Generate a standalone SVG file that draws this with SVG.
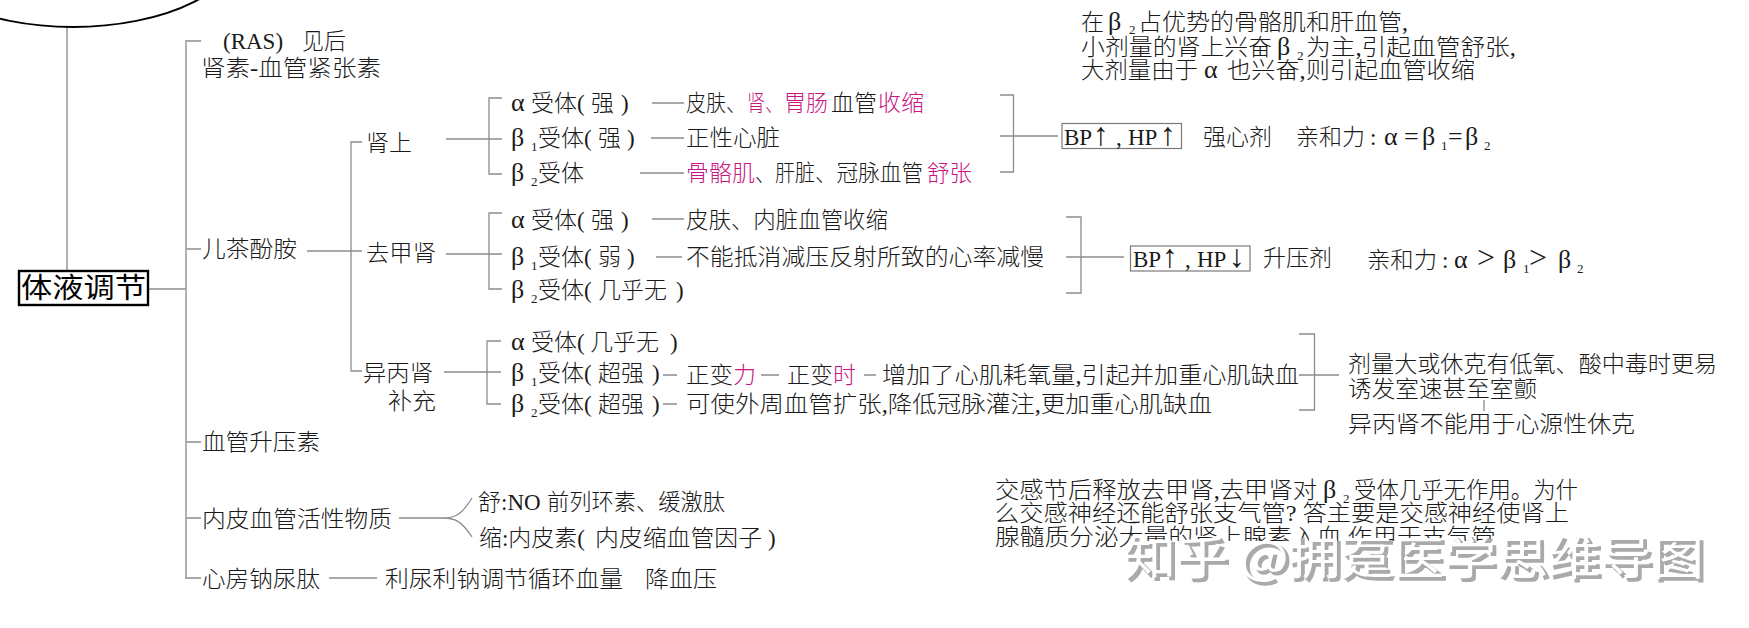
<svg xmlns="http://www.w3.org/2000/svg" width="1749" height="628" viewBox="0 0 1749 628">
<style>
text{font-family:"Liberation Serif","Noto Sans CJK SC",serif;font-size:23px;font-weight:300;fill:#1a1a1a}
.m,.m tspan{fill:#c8157f}
.g{font-size:26px}
.ar{font-size:32px;font-weight:400}
.gt{font-size:32px}
.s{font-size:13px}
.root{font-size:28px;font-weight:400;fill:#000}
.wm{font-family:"Noto Sans CJK SC","Liberation Sans",sans-serif;font-size:46px;font-weight:400}
.c{fill:none;stroke:#8c8c8c;stroke-width:1.3}
.c2{fill:none;stroke:#a8a8a8;stroke-width:1.8}
.b{fill:none;stroke:#7a7a7a;stroke-width:1.2}
</style>
<defs><clipPath id="cut"><path d="M990,515H1500V541H1135V556H990Z"/></clipPath></defs>
<rect width="1749" height="628" fill="#fff"/>
<g id="connectors">
<path class="c2" d="M67,27V271"/>
<path class="c2" d="M148,289H186M201,41H186V578H201M186,249H201M186,442H201M186,518H201"/>
<path class="c" d="M307,251H362M362,142H351V371H362"/>
<path class="c" d="M446,139H502M502,98H489V174H502"/>
<path class="c" d="M446,254H502M502,213H489V289H502"/>
<path class="c" d="M444,372H501M501,341H487V404H501"/>
<path class="c" d="M652,103H684M651,138H684M640,173H684M652,219H684M656,257H682M663,375H677M761,375H779M864,375H876M663,404H677"/>
<path class="c" d="M1000,95H1013.5V172H1000M1000,136H1058"/>
<path class="c" d="M1066,217H1081V293H1066M1066,257H1124"/>
<path class="c" d="M1299,334H1314.5V410H1299M1299,375H1339M1484,400V411"/>
<path class="c" d="M399,518H443C456,518 462,514 472,498M443,518C456,518 462,522 472,537"/>
<path class="c" d="M329,578H377"/>
</g>
<g id="top-ellipse"><ellipse cx="73" cy="-60" rx="172" ry="87" fill="none" stroke="#000" stroke-width="2"/></g>
<g id="root"><rect x="19" y="271" width="129" height="34" fill="#fff" stroke="#000" stroke-width="2.4"/><text class="root" x="21" y="298" textLength="125" lengthAdjust="spacingAndGlyphs">体液调节</text></g>
<g id="ras"><text x="223" y="49">(RAS)</text><text x="302" y="49" textLength="44" lengthAdjust="spacingAndGlyphs">见后</text><text x="201" y="76" textLength="180" lengthAdjust="spacingAndGlyphs">肾素-血管紧张素</text></g>
<g id="catecholamine"><text x="202" y="257" textLength="95" lengthAdjust="spacingAndGlyphs">儿茶酚胺</text></g>
<g id="adrenaline"><text x="366" y="151" textLength="46" lengthAdjust="spacingAndGlyphs">肾上</text></g>
<g id="noradrenaline"><text x="366" y="261" textLength="70" lengthAdjust="spacingAndGlyphs">去甲肾</text></g>
<g id="isoprenaline"><text x="363" y="381" textLength="70" lengthAdjust="spacingAndGlyphs">异丙肾</text><text x="388" y="409" textLength="48" lengthAdjust="spacingAndGlyphs">补充</text></g>
<g id="a-alpha"><text y="111"><tspan class="g" x="511">α</tspan><tspan x="531">受体(</tspan><tspan x="591">强</tspan><tspan x="621">)</tspan></text>
<text x="686" y="111" textLength="60" lengthAdjust="spacingAndGlyphs">皮肤、</text><text class="m" x="747" y="111" textLength="36" lengthAdjust="spacingAndGlyphs">肾、</text><text class="m" x="784" y="111" textLength="44" lengthAdjust="spacingAndGlyphs">胃肠</text><text x="831" y="111" textLength="46" lengthAdjust="spacingAndGlyphs">血管</text><text class="m" x="878" y="111" textLength="46" lengthAdjust="spacingAndGlyphs">收缩</text></g>
<g id="a-beta1"><text y="146"><tspan class="g" x="511">β</tspan><tspan x="538">受体(</tspan><tspan x="598">强</tspan><tspan x="627">)</tspan></text><text class="s" x="531" y="151">1</text>
<text x="686" y="146" textLength="94" lengthAdjust="spacingAndGlyphs">正性心脏</text></g>
<g id="a-beta2"><text y="181"><tspan class="g" x="511">β</tspan><tspan x="538">受体</tspan></text><text class="s" x="531" y="186">2</text>
<text class="m" x="686" y="181" textLength="69" lengthAdjust="spacingAndGlyphs">骨骼肌</text><text x="755" y="181" textLength="60" lengthAdjust="spacingAndGlyphs">、肝脏</text><text x="815" y="181" textLength="108" lengthAdjust="spacingAndGlyphs">、冠脉血管</text><text class="m" x="927" y="181" textLength="45" lengthAdjust="spacingAndGlyphs">舒张</text></g>
<g id="a-note"><text x="1081" y="30">在</text><text class="g" x="1108" y="30">β</text><text class="s" x="1129" y="34">2</text><text x="1138" y="30" textLength="270" lengthAdjust="spacingAndGlyphs">占优势的骨骼肌和肝血管,</text>
<text x="1081" y="55" textLength="191" lengthAdjust="spacingAndGlyphs">小剂量的肾上兴奋</text><text class="g" x="1277" y="55">β</text><text class="s" x="1297" y="60">2</text><text x="1306" y="55" textLength="210" lengthAdjust="spacingAndGlyphs">为主,引起血管舒张,</text>
<text x="1081" y="78" textLength="117" lengthAdjust="spacingAndGlyphs">大剂量由于</text><text class="g" x="1204" y="78">α</text><text x="1227" y="78" textLength="248" lengthAdjust="spacingAndGlyphs">也兴奋,则引起血管收缩</text></g>
<g id="a-effect"><rect class="b" x="1062" y="123.5" width="119.5" height="25"/><text y="145"><tspan x="1064">BP</tspan><tspan class="ar" x="1093">↑</tspan><tspan x="1116">,</tspan><tspan x="1128">HP</tspan><tspan class="ar" x="1160">↑</tspan></text>
<text x="1203" y="145" textLength="69" lengthAdjust="spacingAndGlyphs">强心剂</text><text x="1296" y="145" textLength="69" lengthAdjust="spacingAndGlyphs">亲和力</text><text y="145"><tspan x="1370">:</tspan><tspan class="g" x="1384">α</tspan><tspan class="g" x="1404">=</tspan><tspan class="g" x="1422">β</tspan><tspan class="g" x="1448">=</tspan><tspan class="g" x="1465">β</tspan></text><text class="s" x="1441" y="150">1</text><text class="s" x="1484" y="150">2</text></g>
<g id="n-alpha"><text y="228"><tspan class="g" x="511">α</tspan><tspan x="531">受体(</tspan><tspan x="591">强</tspan><tspan x="621">)</tspan></text><text x="686" y="228" textLength="202" lengthAdjust="spacingAndGlyphs">皮肤、内脏血管收缩</text></g>
<g id="n-beta1"><text y="265"><tspan class="g" x="511">β</tspan><tspan x="538">受体(</tspan><tspan x="598">弱</tspan><tspan x="627">)</tspan></text><text class="s" x="531" y="270">1</text><text x="686" y="265" textLength="358" lengthAdjust="spacingAndGlyphs">不能抵消减压反射所致的心率减慢</text></g>
<g id="n-beta2"><text y="298"><tspan class="g" x="511">β</tspan><tspan x="538">受体(</tspan><tspan x="598">几乎无</tspan><tspan x="676">)</tspan></text><text class="s" x="531" y="303">2</text></g>
<g id="n-effect"><rect class="b" x="1130.5" y="246" width="119.5" height="25"/><text y="267"><tspan x="1133">BP</tspan><tspan class="ar" x="1162">↑</tspan><tspan x="1185">,</tspan><tspan x="1197">HP</tspan><tspan class="ar" x="1229">↓</tspan></text>
<text x="1263" y="266" textLength="69" lengthAdjust="spacingAndGlyphs">升压剂</text><text x="1367" y="268" textLength="70" lengthAdjust="spacingAndGlyphs">亲和力</text><text y="268"><tspan x="1442">:</tspan><tspan class="g" x="1454">α</tspan><tspan class="gt" x="1477">&gt;</tspan><tspan class="g" x="1503">β</tspan><tspan class="gt" x="1529">&gt;</tspan><tspan class="g" x="1558">β</tspan></text><text class="s" x="1523" y="273">1</text><text class="s" x="1577" y="273">2</text></g>
<g id="i-alpha"><text y="350"><tspan class="g" x="511">α</tspan><tspan x="531">受体(</tspan><tspan x="590">几乎无</tspan><tspan x="670">)</tspan></text></g>
<g id="i-beta1"><text y="381"><tspan class="g" x="511">β</tspan><tspan x="538">受体(</tspan><tspan x="598">超强</tspan><tspan x="652">)</tspan></text><text class="s" x="531" y="386">1</text>
<text x="686" y="383" textLength="47" lengthAdjust="spacingAndGlyphs">正变</text><text class="m" x="733" y="383">力</text><text x="787" y="383" textLength="46" lengthAdjust="spacingAndGlyphs">正变</text><text class="m" x="833" y="383">时</text><text x="882" y="383" textLength="417" lengthAdjust="spacingAndGlyphs">增加了心肌耗氧量,引起并加重心肌缺血</text></g>
<g id="i-beta2"><text y="412"><tspan class="g" x="511">β</tspan><tspan x="538">受体(</tspan><tspan x="598">超强</tspan><tspan x="652">)</tspan></text><text class="s" x="531" y="417">2</text><text x="686" y="412" textLength="526" lengthAdjust="spacingAndGlyphs">可使外周血管扩张,降低冠脉灌注,更加重心肌缺血</text></g>
<g id="i-note"><text x="1348" y="372" textLength="369" lengthAdjust="spacingAndGlyphs">剂量大或休克有低氧、酸中毒时更易</text><text x="1348" y="397" textLength="189" lengthAdjust="spacingAndGlyphs">诱发室速甚至室颤</text><text x="1348" y="432" textLength="287" lengthAdjust="spacingAndGlyphs">异丙肾不能用于心源性休克</text></g>
<g id="vasopressin"><text x="202" y="450" textLength="118" lengthAdjust="spacingAndGlyphs">血管升压素</text></g>
<g id="endothelial"><text x="202" y="527" textLength="190" lengthAdjust="spacingAndGlyphs">内皮血管活性物质</text>
<text x="478" y="510">舒:NO</text><text x="547" y="510" textLength="178" lengthAdjust="spacingAndGlyphs">前列环素、缓激肽</text>
<text x="479" y="546" textLength="106" lengthAdjust="spacingAndGlyphs">缩:内皮素(</text><text x="595" y="546" textLength="167" lengthAdjust="spacingAndGlyphs">内皮缩血管因子</text><text x="768" y="546">)</text></g>
<g id="anp"><text x="202" y="587" textLength="118" lengthAdjust="spacingAndGlyphs">心房钠尿肽</text><text x="385" y="587" textLength="238" lengthAdjust="spacingAndGlyphs">利尿利钠调节循环血量</text><text x="645" y="587" textLength="72" lengthAdjust="spacingAndGlyphs">降血压</text></g>
<g id="sympathetic-note"><text x="995" y="498" textLength="322" lengthAdjust="spacingAndGlyphs">交感节后释放去甲肾,去甲肾对</text><text class="g" x="1323" y="498">β</text><text class="s" x="1343" y="503">2</text><text x="1354" y="498" textLength="224" lengthAdjust="spacingAndGlyphs">受体几乎无作用。为什</text>
<text x="995" y="521" textLength="574" lengthAdjust="spacingAndGlyphs">么交感神经还能舒张支气管? 答主要是交感神经使肾上</text>
<text x="995" y="545" textLength="501" lengthAdjust="spacingAndGlyphs" clip-path="url(#cut)">腺髓质分泌大量的肾上腺素入血,作用于支气管</text></g>
<g id="watermark"><text class="wm" x="1127" y="577" textLength="580" lengthAdjust="spacingAndGlyphs" style="fill:#aaaaaa;stroke:#aaaaaa;stroke-width:1.5">知乎 @拥趸医学思维导图</text><text class="wm" x="1124" y="574" textLength="580" lengthAdjust="spacingAndGlyphs" style="fill:#ffffff">知乎 @拥趸医学思维导图</text></g>
</svg>
